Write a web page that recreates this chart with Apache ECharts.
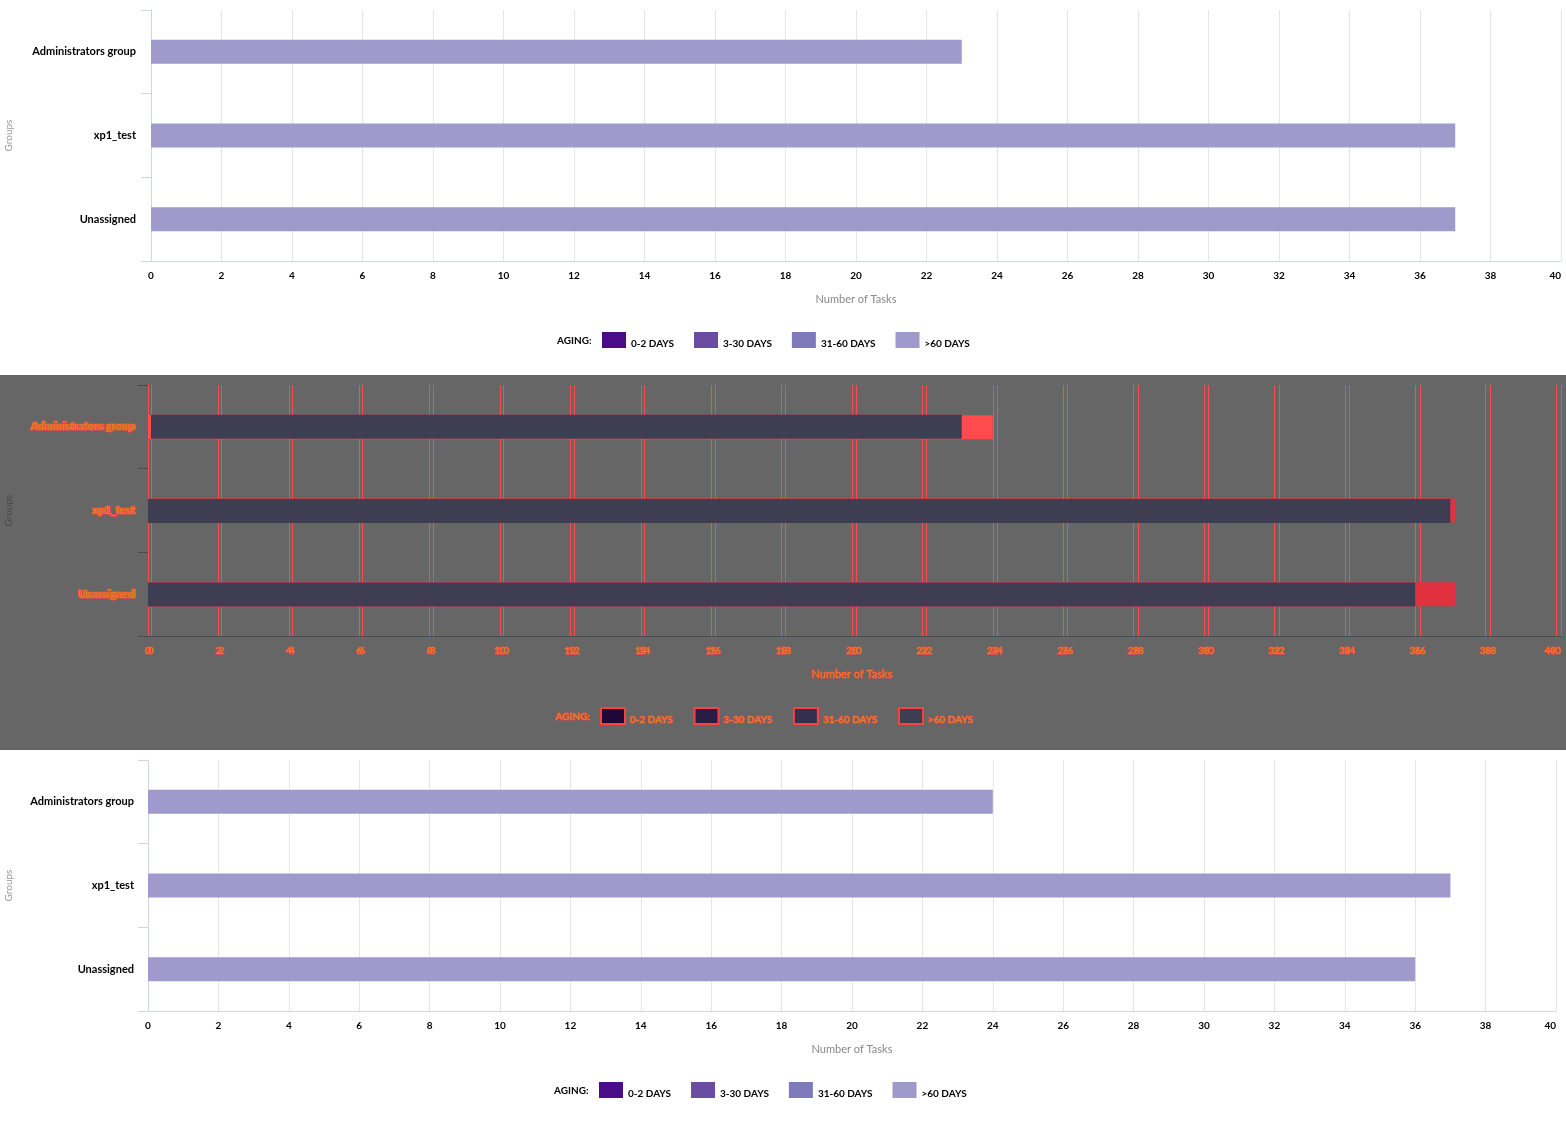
<!DOCTYPE html>
<html><head><meta charset="utf-8">
<script src="https://cdn.jsdelivr.net/npm/echarts@6/dist/echarts.min.js"></script>
<style>
html,body{margin:0;padding:0;background:#fff;}
.p{position:absolute;left:0;width:1566px;height:375px;}
</style></head><body>
<div id="a" class="p" style="top:0"></div>
<div id="m" class="p" style="top:375px;background:#666666"></div>
<div id="b" class="p" style="top:750px"></div>
<script>
// ---- data ----
const categories = ['Administrators group', 'xp1_test', 'Unassigned'];
const legendNames = ['0-2 DAYS', '3-30 DAYS', '31-60 DAYS', '>60 DAYS'];
// first chart (top panel)
const before_0_2 = [0, 0, 0];
const before_3_30 = [0, 0, 0];
const before_31_60 = [0, 0, 0];
const before_over60 = [23, 37, 37];
// second chart (bottom panel)
const after_0_2 = [0, 0, 0];
const after_3_30 = [0, 0, 0];
const after_31_60 = [0, 0, 0];
const after_over60 = [24, 37, 36];
const axisMin = 0, axisMax = 40, axisStep = 2;

// ---- styles ----
const FONT = 'Lato, "Open Sans", sans-serif';
const colors = ['#4b0c8a', '#6a4ca3', '#7f7abb', '#a099cb'];
const diffColors = ['#1f0838', '#2a1d45', '#332f4e', '#3f3d52'];

function legendRich(textColor, extra) {
  return {
    fontSize: 10, fontWeight: 'bold', fontFamily: FONT,
    rich: { t: Object.assign({ fontSize: 10, fontWeight: 'bold', fontFamily: FONT, color: textColor, padding: [7, 0, 0, 0] }, extra || {}) }
  };
}

function panelOption(values, geo) {
  return {
    animation: false,
    textStyle: { fontFamily: FONT },
    grid: { left: geo.left, right: geo.right, top: 10, height: 251, outerBoundsMode: 'none', containLabel: false },
    graphic: [{ type: 'text', left: geo.agingX, top: 336,
      style: { text: 'AGING:', font: 'bold 10px ' + FONT, fill: '#000' } }],
    legend: {
      data: legendNames, left: geo.legendX, top: 332, padding: 0, itemWidth: 24, itemHeight: 16,
      itemGap: 20, icon: 'rect', selectedMode: false,
      formatter: '{t|{name}}',
      textStyle: legendRich('#000')
    },
    xAxis: {
      type: 'value', min: axisMin, max: axisMax, interval: axisStep,
      axisLine: { show: true, lineStyle: { color: '#ccd6eb' } },
      axisTick: { show: false },
      splitLine: { lineStyle: { color: '#e6e6e6' } },
      axisLabel: { color: '#000', fontWeight: 'bold', fontSize: 10, margin: 10, alignMaxLabel: 'right' },
      name: 'Number of Tasks', nameLocation: 'middle', nameGap: 33,
      nameTextStyle: { color: '#888', fontSize: 11 }
    },
    yAxis: {
      type: 'category', inverse: true, data: categories,
      axisLine: { show: true, lineStyle: { color: '#ccd6eb' } },
      axisTick: { show: true, length: 10, lineStyle: { color: '#ccd6eb' } },
      axisLabel: { color: '#000', fontWeight: 'bold', fontSize: 11, margin: geo.labelMargin },
      name: 'Groups', nameLocation: 'middle', nameRotate: 90, nameGap: geo.left - 14,
      nameTextStyle: { color: '#999', fontSize: 10 }
    },
    series: values.map((v, i) => ({
      name: legendNames[i], type: 'bar', stack: 'aging', data: v, barWidth: 24,
      itemStyle: { color: colors[i] }
    }))
  };
}

const chartA = echarts.init(document.getElementById('a'));
chartA.setOption(panelOption([before_0_2, before_3_30, before_31_60, before_over60],
  { left: 151, right: 5, labelMargin: 15, legendX: 602, agingX: 557 }));

const chartB = echarts.init(document.getElementById('b'));
chartB.setOption(panelOption([after_0_2, after_3_30, after_31_60, after_over60],
  { left: 148, right: 10, labelMargin: 14, legendX: 599, agingX: 554 }));

// ---- difference panel ----
const darkA = before_over60.map((v, i) => v < after_over60[i] ? v : null);
const darkB = before_over60.map((v, i) => v < after_over60[i] ? null : after_over60[i]);
const diffText = { color: '#d9822b', textBorderColor: '#ff4040', textBorderWidth: 1 };
function diffX(idx, show) {
  return {
    type: 'value', gridIndex: idx, min: axisMin, max: axisMax, interval: axisStep,
    axisLine: { show: true, lineStyle: { color: '#4a4956' } },
    axisTick: { show: false },
    splitLine: { lineStyle: { color: '#ff4b4b' } },
    axisLabel: Object.assign({ fontWeight: 'bold', fontSize: 10, margin: 10, alignMaxLabel: 'right' }, diffText),
    name: show ? 'Number of Tasks' : '', nameLocation: 'middle', nameGap: 33,
    nameTextStyle: Object.assign({ fontSize: 11 }, diffText)
  };
}
function diffY(idx, show, margin) {
  return {
    type: 'category', gridIndex: idx, inverse: true, data: categories,
    axisLine: { show: true, lineStyle: { color: '#ff4b4b' } },
    axisTick: { show: show, length: 10, lineStyle: { color: '#4a4a4a' } },
    axisLabel: Object.assign({ fontWeight: 'bold', fontSize: 11, margin: margin }, diffText),
    name: show ? 'Groups' : '', nameLocation: 'middle', nameRotate: 90, nameGap: 134,
    nameTextStyle: { color: '#4a4a4a', fontSize: 10 }
  };
}
const chartM = echarts.init(document.getElementById('m'));
chartM.setOption({
  animation: false,
  textStyle: { fontFamily: FONT },
  grid: [
    { left: 151, right: 5, top: 10, height: 251, outerBoundsMode: 'none', containLabel: false },
    { left: 148, right: 10, top: 10, height: 251, outerBoundsMode: 'none', containLabel: false }
  ],
  graphic: [{ type: 'text', left: 555, top: 336,
    style: { text: 'AGING:', font: 'bold 10px ' + FONT, fill: '#d9822b', stroke: '#ff4040', lineWidth: 1 } }],
  legend: {
    data: legendNames, left: 600, top: 332, padding: 0, itemWidth: 24, itemHeight: 16,
    itemGap: 20, icon: 'rect', selectedMode: false,
    formatter: '{t|{name}}',
    textStyle: legendRich('#d9822b', { textBorderColor: '#ff4040', textBorderWidth: 1 })
  },
  xAxis: [diffX(0, false), diffX(1, true)],
  yAxis: [diffY(0, false, 15), diffY(1, true, 14)],
  series: [
    { name: 'A', type: 'bar', xAxisIndex: 0, yAxisIndex: 0, data: before_over60, barWidth: 24, barGap: '-100%', z: 2, itemStyle: { color: '#e1303e' } },
    { name: 'Ad', type: 'bar', xAxisIndex: 0, yAxisIndex: 0, data: darkA, barWidth: 24, barGap: '-100%', z: 4, itemStyle: { color: '#3f3d52' } },
    { name: 'B', type: 'bar', xAxisIndex: 1, yAxisIndex: 1, data: after_over60, barWidth: 24, barGap: '-100%', z: 3, itemStyle: { color: '#ff4b4b' } },
    { name: 'Bd', type: 'bar', xAxisIndex: 1, yAxisIndex: 1, data: darkB, barWidth: 24, barGap: '-100%', z: 4, itemStyle: { color: '#3f3d52' } }
  ].concat(legendNames.map((n, i) => ({
    name: n, type: 'bar', xAxisIndex: 1, yAxisIndex: 1, data: [], itemStyle: { color: diffColors[i], borderColor: '#ff4040', borderWidth: 1 }
  })))
});
</script>
</body></html>
